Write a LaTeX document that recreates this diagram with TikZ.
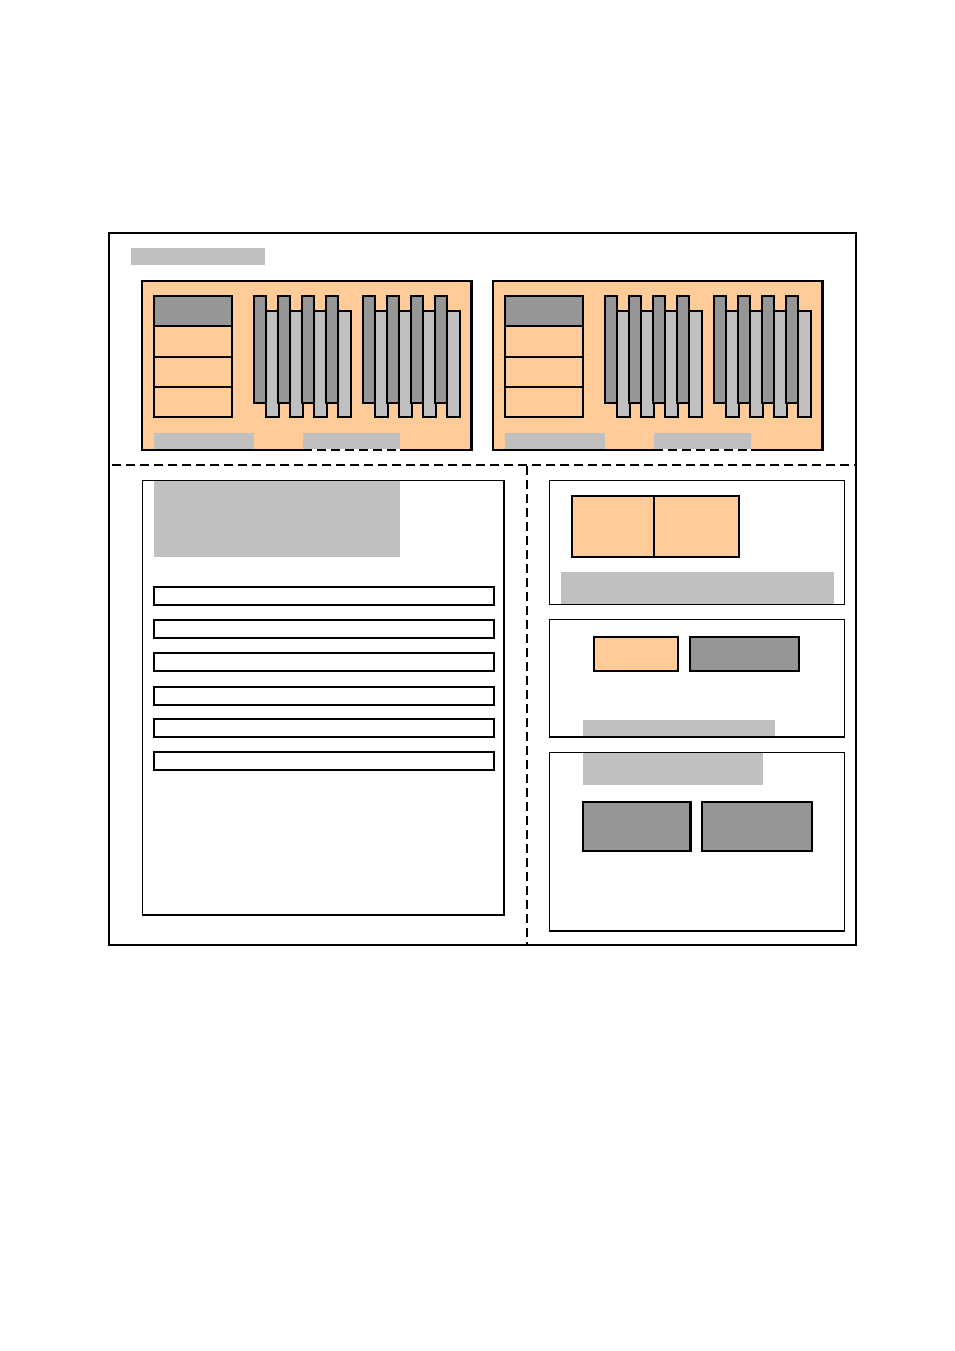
\documentclass[tikz,border=0pt]{standalone}
\definecolor{orng}{HTML}{FFCC99}
\definecolor{dgray}{HTML}{969696}
\definecolor{lgray}{HTML}{C0C0C0}
\begin{document}
\begin{tikzpicture}[x=1pt,y=-1pt,
  panel/.style={draw=black,line width=2.6pt,fill=orng},
  lbl/.style={fill=lgray,draw=none},
  bar/.style={draw=black,line width=2pt},
  box/.style={draw=black,line width=1.2pt},
  dsh/.style={draw=black,line width=2.3pt,dash pattern=on 9pt off 5pt},
  dshthin/.style={draw=black,line width=1.8pt,dash pattern=on 9pt off 5pt}]
\useasboundingbox (0,0) rectangle (954,1351);
% outer frame
\draw[line width=2.2pt] (109,233) rectangle (856,945);
\fill[lbl] (131,248) rectangle (265,265);
% panels
\foreach \ox/\px in {0/0,351/1}{
  \begin{scope}[xshift=\ox]
  \draw[panel] (142,281) rectangle (471.5,450);
  % memory stack
  \draw[bar,fill=dgray] (154,296) rectangle (232,326);
  \draw[bar,fill=orng] (154,326) rectangle (232,357);
  \draw[bar,fill=orng] (154,357) rectangle (232,387);
  \draw[bar,fill=orng] (154,387) rectangle (232,417);
  % bars
  \foreach \g in {0,109}{
    \foreach \i in {0,1,2,3}{
      \draw[bar,fill=lgray] ({266+\g+24*\i},311) rectangle ({279+\g+24*\i},417);
      \draw[bar,fill=dgray] ({254+\g+24*\i},296) rectangle ({266+\g+24*\i},402.5);
    }
  }
  % bottom labels
  \fill[lbl] (154,433) rectangle (254,449);
  \fill[lbl] (303,433) rectangle (400,449);
  \fill[white] (303,449) rectangle (400,451.5);
  \draw[dshthin] (303,450.2) -- (400,450.2);
  \end{scope}
}
% dashed dividers
\draw[dsh] (112,465) -- (856,465);
\draw[dsh] (527,466) -- (527,945);
% left lower box
\draw[box] (142.5,480.5) rectangle (504,915);
\fill[lbl] (154,481) rectangle (400,557);
\foreach \y in {587,620,653,686.5,719,752}{
  \draw[bar] (153.5,\y) rectangle (494,{\y+18});
}
% right box 1
\draw[box] (549.5,480.5) rectangle (844.5,604.5);
\draw[bar,line width=2.3pt,fill=orng] (572,496) rectangle (739,557);
\draw[bar,line width=1.8pt] (654,496) -- (654,557);
\fill[lbl] (561,572) rectangle (834,604);
% right box 2
\draw[box] (549.5,619.5) rectangle (844.5,737);
\draw[bar,line width=2.3pt,fill=orng] (594,637) rectangle (678,671);
\draw[bar,line width=2.3pt,fill=dgray] (690,637) rectangle (799,671);
\fill[lbl] (583,720) rectangle (775,736);
\draw[line width=1.6pt] (549.5,737) -- (844.5,737);
% right box 3
\draw[box] (549.5,752.5) rectangle (844.5,931);
\fill[lbl] (583,753) rectangle (763,785);
\draw[bar,line width=2.3pt,fill=dgray] (583,802) rectangle (690.5,851);
\draw[bar,line width=2.3pt,fill=dgray] (702,802) rectangle (812,851);
\end{tikzpicture}
\end{document}
